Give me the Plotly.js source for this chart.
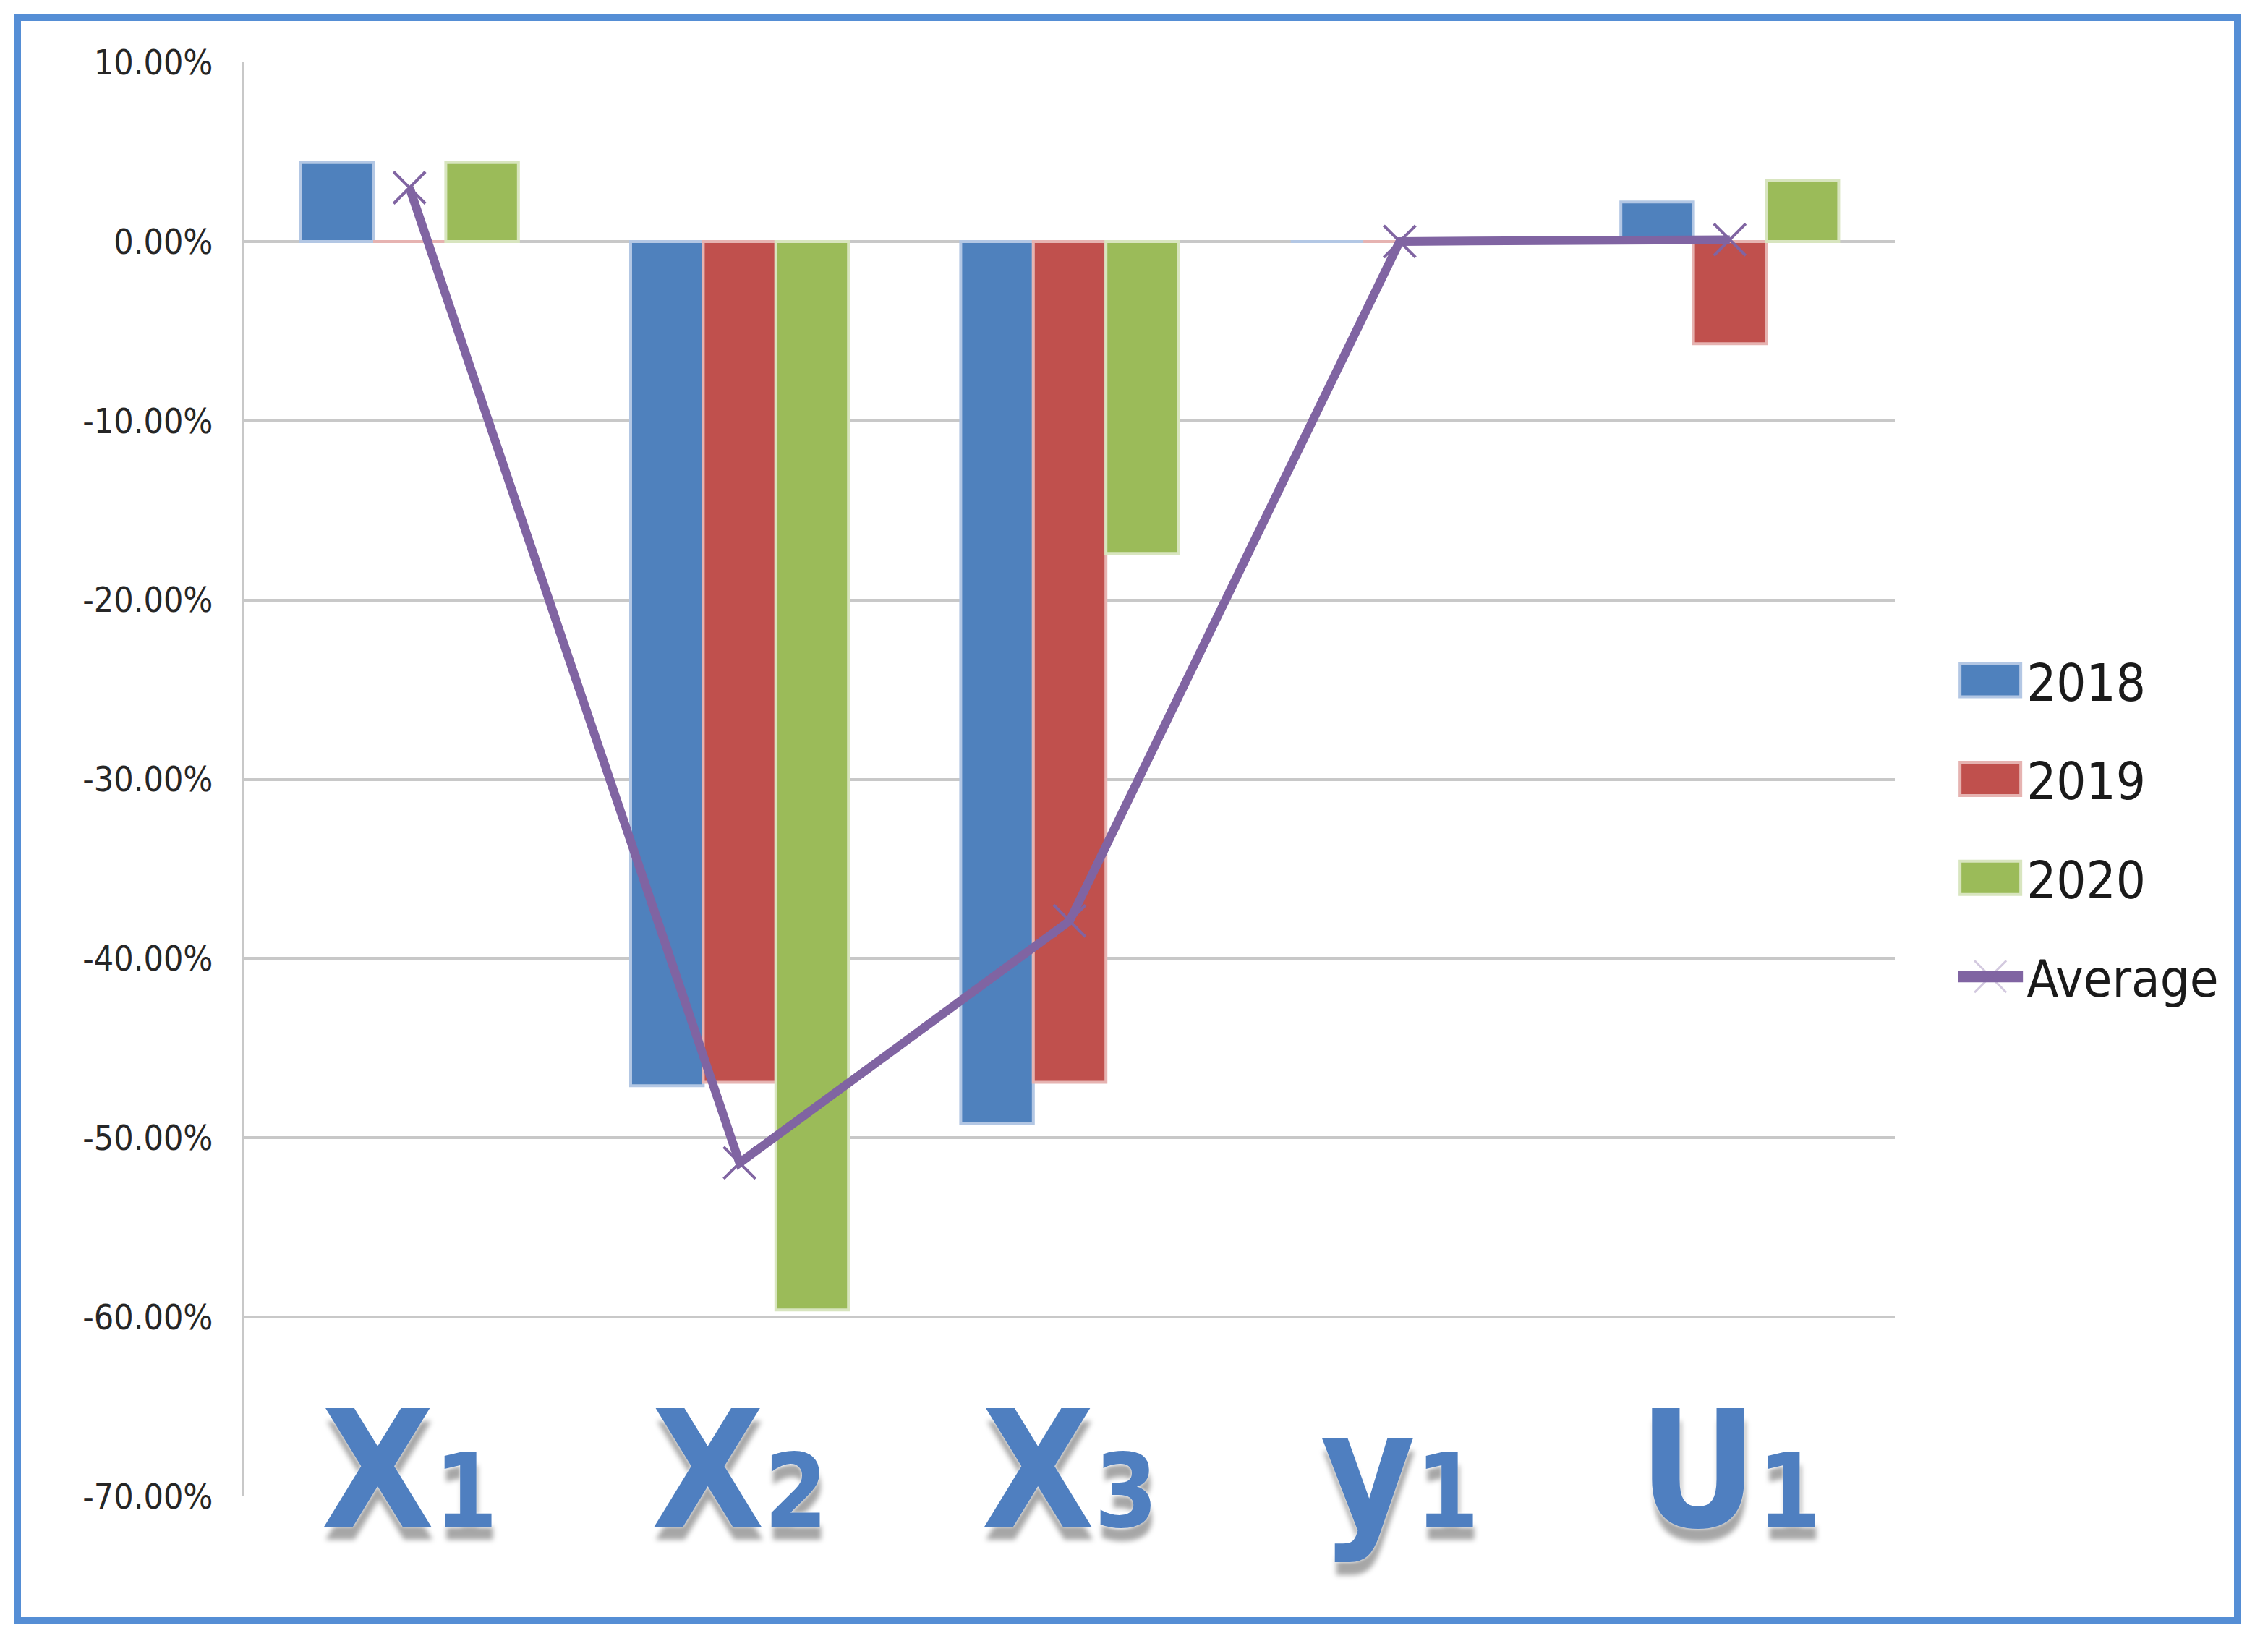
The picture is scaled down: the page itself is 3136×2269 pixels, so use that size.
<!DOCTYPE html>
<html>
<head>
<meta charset="utf-8">
<script src="https://cdn.plot.ly/plotly-3.0.1.min.js"></script>
<style>
	html, body {margin:0; padding:0; background:#fff;}
	#myDiv {width:3136px; height:2269px;}
	#myDiv text {font-stretch:condensed;}
	#frame {position:absolute; left:20px; top:20px; width:3078px; height:2225px; box-sizing:border-box; border:9px solid #558ed5; pointer-events:none;}
</style>
</head>
<body>
<div id="myDiv"></div>
<div id="frame"></div>
<script>
// カテゴリ
const categories = ['X1', 'X2', 'X3', 'y1', 'U1']
const catLabels  = [
	'X<span style="font-size:140px">1</span>',
	'X<span style="font-size:140px">2</span>',
	'X<span style="font-size:140px">3</span>',
	'y<span style="font-size:140px">1</span>',
	'U<span style="font-size:140px">1</span>'
]

// 系列 (%)
const v2018   = [4.4, -47.1, -49.2, 0, 2.2]
const v2019   = [0, -46.9, -46.9, 0, -5.7]
const v2020   = [4.4, -59.6, -17.4, 0, 3.4]
const average = [3.0, -51.4, -37.9, 0, 0.1]

// 目盛
const yTicks  = [10, 0, -10, -20, -30, -40, -50, -60, -70]
const yLabels = ['10.00%', '0.00%', '-10.00%', '-20.00%', '-30.00%', '-40.00%', '-50.00%', '-60.00%', '-70.00%']

const sans = '"DejaVu Sans Condensed", "DejaVu Sans", sans-serif'

const b2018 = {x:categories, y:v2018, name:'2018', type:'bar', legendgroup:'a',
	marker:{color:'#4f81bd', line:{color:'#b3c7e4', width:4}}}
const b2019 = {x:categories, y:v2019, name:'2019', type:'bar', legendgroup:'b',
	marker:{color:'#c0504d', line:{color:'#e6b3b1', width:4}}}
const b2020 = {x:categories, y:v2020, name:'2020', type:'bar', legendgroup:'c',
	marker:{color:'#9bbb59', line:{color:'#d8e5bf', width:4}}}
const avg = {x:categories, y:average, name:'Average', type:'scatter', mode:'lines+markers', legendgroup:'d',
	line:{color:'#8064a2', width:12},
	marker:{symbol:'x-thin-open', size:44, color:'#8064a2', line:{color:'#8064a2', width:4}}}

const data = [b2018, b2019, b2020, avg]

const layout = {
	width: 3136,
	height: 2269,
	margin: {l:338, r:516, t:86, b:200},
	paper_bgcolor: '#fff',
	plot_bgcolor: '#fff',
	barmode: 'group',
	bargap: 0.34,
	bargroupgap: 0,
	showlegend: true,
	legend: {
		x: 1.036, xanchor: 'left',
		y: 0.596, yanchor: 'top',
		font: {family: sans, size: 72, color: '#1a1a1a'},
		itemwidth: 90,
		tracegroupgap: 40,
		traceorder: 'grouped'
	},
	xaxis: {
		type: 'category',
		range: [-0.5, 4.5],
		tickvals: categories,
		ticktext: catLabels,
		ticks: '',
		showgrid: false,
		showline: false,
		zeroline: false,
		ticklabelstandoff: -184,
		tickfont: {family: sans, size: 225, weight: 'bold', color: '#4f7fc0',
			shadow: '0px 0px 4px #ffffff, 2px 18px 7px rgba(0,0,0,0.35)'}
	},
	yaxis: {
		range: [-70, 10],
		tickvals: yTicks,
		ticktext: yLabels,
		ticks: '',
		showgrid: true,
		gridcolor: '#c8c8c8',
		gridwidth: 4,
		zeroline: true,
		zerolinecolor: '#c8c8c8',
		zerolinewidth: 4,
		showline: true,
		linecolor: '#c8c8c8',
		linewidth: 4,
		ticklabelstandoff: 30,
		tickfont: {family: sans, size: 48, color: '#262626'}
	}
}

const config = {displayModeBar: false, staticPlot: true}

Plotly.newPlot('myDiv', data, layout, config).then(function(gd) {
	// 凡例シンボルを大きく
	gd.querySelectorAll('.legend path.legendundefined').forEach(function(p) {
		p.setAttribute('d', 'M42,23H-42V-23H42Z')
	})
	gd.querySelectorAll('.legend .legendlines path').forEach(function(p) {
		p.style.strokeWidth = '16px'
	})
	gd.querySelectorAll('.legend path.scatterpts').forEach(function(p) {
		p.setAttribute('d', 'M22,22L-22,-22M22,-22L-22,22')
		p.style.strokeWidth = '3px'
		p.style.strokeOpacity = '0.35'
	})
})
</script>
</body>
</html>
